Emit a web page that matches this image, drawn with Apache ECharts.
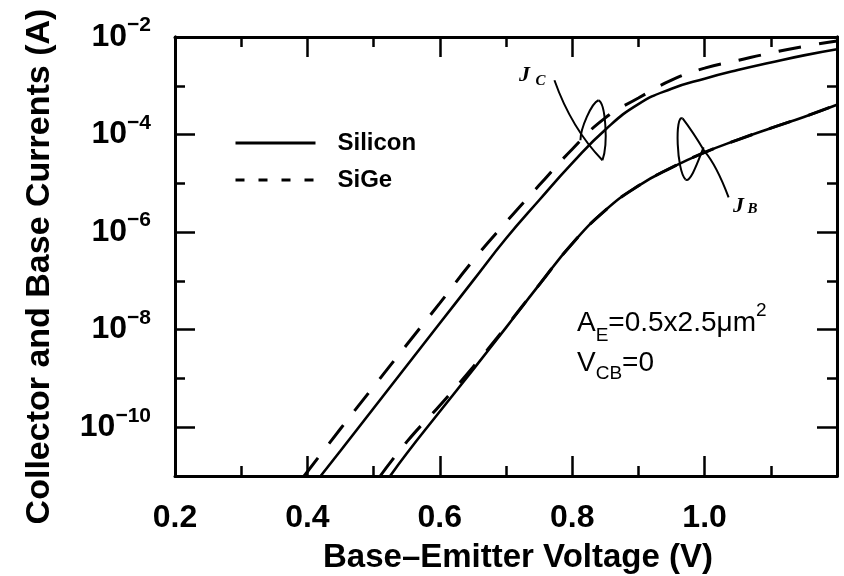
<!DOCTYPE html>
<html>
<head>
<meta charset="utf-8">
<script src="https://cdn.jsdelivr.net/npm/echarts@6/dist/echarts.min.js"></script>
<style>
  html, body { margin: 0; padding: 0; background: #fff; }
  #main { width: 844px; height: 576px; }
</style>
</head>
<body>
<div id="main"></div>
<script>
// 基极-发射极电压 (V) 与电流 (A)
const vbeJcSi = [0.42, 0.45, 0.50, 0.55, 0.60, 0.65, 0.70, 0.75, 0.80, 0.85, 0.90, 0.95, 1.00, 1.05, 1.10, 1.15, 1.20];
const jcSi = [1.0e-11, 3.3e-11, 2.45e-10, 1.82e-9, 1.35e-8, 1.0e-7, 7.4e-7, 4.5e-6, 2.6e-5, 1.26e-4, 4.2e-4, 8.7e-4, 1.4e-3, 2.1e-3, 3.0e-3, 4.2e-3, 5.6e-3];

const vbeJcSiGe = [0.395, 0.45, 0.50, 0.55, 0.60, 0.65, 0.70, 0.75, 0.80, 0.85, 0.90, 0.95, 1.00, 1.05, 1.10, 1.15, 1.20];
const jcSiGe = [1.0e-11, 9.3e-11, 6.8e-10, 4.9e-9, 3.5e-8, 2.6e-7, 1.6e-6, 9.1e-6, 5.0e-5, 2.2e-4, 5.6e-4, 1.3e-3, 2.3e-3, 3.3e-3, 4.7e-3, 6.4e-3, 8.3e-3];

const vbeJbSi = [0.525, 0.55, 0.60, 0.65, 0.70, 0.75, 0.80, 0.85, 0.90, 0.95, 1.00, 1.05, 1.10, 1.15, 1.20];
const jbSi = [1.0e-11, 2.9e-11, 2.1e-10, 1.5e-9, 1.1e-8, 8.3e-8, 5.8e-7, 2.8e-6, 8.9e-6, 2.1e-5, 4.3e-5, 7.8e-5, 1.35e-4, 2.3e-4, 4.1e-4];

const vbeJbSiGe = [0.51, 0.55, 0.60, 0.65, 0.70, 0.75, 0.80, 0.85, 0.90, 0.95, 1.00, 1.05, 1.10, 1.15, 1.20];
const jbSiGe = [1.0e-11, 5.0e-11, 2.8e-10, 1.7e-9, 1.15e-8, 8.3e-8, 5.8e-7, 2.8e-6, 8.9e-6, 2.1e-5, 4.3e-5, 7.8e-5, 1.35e-4, 2.3e-4, 4.1e-4];

// 刻度
const yMajorTicks = [1e-10, 1e-8, 1e-6, 1e-4, 1e-2];
const yMinorTicks = [1e-9, 1e-7, 1e-5, 1e-3];

const font = "'Liberation Sans', Arial, sans-serif";
const black = '#000';

function pairs(xs, ys) {
  return xs.map((x, i) => [x, ys[i]]);
}

function yAxisOf(position, ticks, len, withLabels) {
  return {
    type: 'log', logBase: 10, min: 1e-11, max: 1e-2,
    position: position, offset: 0,
    axisLine: { show: true, lineStyle: { color: black, width: 3 } },
    axisTick: { show: true, inside: true, length: len, customValues: ticks, lineStyle: { color: black, width: 2.5 } },
    minorTick: { show: false },
    splitLine: { show: false },
    axisLabel: withLabels ? {
      customValues: yMajorTicks,
      margin: 24,
      formatter: function (v) {
        const e = Math.round(Math.log10(v));
        return '{b|10}{s|\u2212' + (-e) + '}';
      },
      rich: {
        b: { fontSize: 32, fontWeight: 'bold', fontFamily: font, color: black },
        s: { fontSize: 21, fontWeight: 'bold', fontFamily: font, color: black, padding: [0, 0, 23, 0] }
      }
    } : { show: false },
    name: withLabels ? 'Collector and Base Currents (A)' : '',
    nameLocation: 'middle',
    nameRotate: 90,
    nameGap: 118,
    nameTextStyle: { fontSize: 34, fontWeight: 'bold', fontFamily: font, color: black, padding: [0, 20, 0, 0] }
  };
}

function xAxisOf(position, withLabels) {
  return {
    type: 'value', min: 0.2, max: 1.2, interval: 0.2, position: position,
    axisLine: { show: true, onZero: false, lineStyle: { color: black, width: 3 } },
    axisTick: { show: true, inside: true, length: 20, lineStyle: { color: black, width: 2.5 } },
    minorTick: { show: true, splitNumber: 2, length: 10, lineStyle: { color: black, width: 2.5 } },
    splitLine: { show: false },
    axisLabel: withLabels ? {
      margin: 26,
      fontSize: 32, fontWeight: 'bold', fontFamily: font, color: black,
      formatter: function (v) { return v > 1.15 ? '' : v.toFixed(1); }
    } : { show: false },
    name: withLabels ? 'Base\u2013Emitter Voltage (V)' : '',
    nameLocation: 'middle',
    nameGap: 65,
    nameTextStyle: { fontSize: 33, fontWeight: 'bold', fontFamily: font, color: black, padding: [0, 0, 0, 24] }
  };
}

const solid = { color: black, width: 2.6, type: 'solid' };
const dashed = { color: black, width: 3, type: [23, 18] };

function lineSeries(name, xs, ys, style) {
  return {
    name: name, type: 'line', xAxisIndex: 0, yAxisIndex: 0,
    data: pairs(xs, ys),
    symbol: 'none', showSymbol: false, smooth: 0.5,
    lineStyle: style, itemStyle: { color: black },
    clip: true, z: 3
  };
}

var myChart = echarts.init(document.getElementById('main'));

var option = {
  backgroundColor: '#fff',
  animation: false,
  grid: { left: 175, right: 7, top: 37, bottom: 100, outerBoundsMode: 'none', containLabel: false },
  legend: {
    orient: 'vertical', left: 229, top: 126,
    itemWidth: 80, itemHeight: 14, itemGap: 13,
    selectedMode: false,
    itemStyle: { color: 'rgba(0,0,0,0)', borderColor: 'rgba(0,0,0,0)', borderWidth: 0 },
    textStyle: { fontSize: 24, fontWeight: 'bold', fontFamily: font, color: black, padding: [0, 0, 0, 17] },
    data: [
      { name: 'Silicon', lineStyle: { color: black, width: 3, type: 'solid' } },
      { name: 'SiGe', lineStyle: { color: black, width: 3, type: [9, 14] } }
    ]
  },
  xAxis: [xAxisOf('bottom', true), xAxisOf('top', false)],
  yAxis: [
    yAxisOf('left', yMajorTicks, 20, true),
    yAxisOf('left', yMinorTicks, 10, false),
    yAxisOf('right', yMajorTicks, 20, false),
    yAxisOf('right', yMinorTicks, 10, false)
  ],
  series: [
    lineSeries('Silicon', vbeJcSi, jcSi, solid),
    lineSeries('SiGe', vbeJcSiGe, jcSiGe, dashed),
    lineSeries('Silicon', vbeJbSi, jbSi, solid),
    lineSeries('SiGe', vbeJbSiGe, jbSiGe, dashed)
  ]
};

myChart.setOption(option);

// 注释：J_C / J_B 的套索标记，位置相对曲线上的点
const jcAnchor = myChart.convertToPixel({ xAxisIndex: 0, yAxisIndex: 0 }, [0.82, 5.0e-5]);
const jbAnchor = myChart.convertToPixel({ xAxisIndex: 0, yAxisIndex: 0 }, [1.0, 4.5e-5]);
jcAnchor[1] -= 6;
const serif = "'Liberation Serif', 'Times New Roman', serif";

function curve(x1, y1, cx1, cy1, cx2, cy2, x2, y2) {
  const shape = { x1: x1, y1: y1, x2: x2, y2: y2, cpx1: cx1, cpy1: cy1 };
  if (cx2 !== null) { shape.cpx2 = cx2; shape.cpy2 = cy2; }
  return { type: 'bezierCurve', shape: shape, style: { fill: null, stroke: black, lineWidth: 2 } };
}

function label(x, y, text, size) {
  return {
    type: 'text', x: x, y: y, z: 10,
    style: { text: text, font: 'italic bold ' + size + 'px ' + serif, fill: black, align: 'center', verticalAlign: 'middle' }
  };
}

myChart.setOption({
  graphic: [
    {
      type: 'group', x: jcAnchor[0], y: jcAnchor[1], z: 10,
      children: [
        curve(-31, -63, -14, -15, null, null, 17, 17),
        curve(17, 17, 23, 0, 20, -40, 13, -43),
        curve(13, -43, 6, -40, -5, -15, -5, -3)
      ]
    },
    label(jcAnchor[0] - 61, jcAnchor[1] - 68, 'J', 22),
    label(jcAnchor[0] - 45, jcAnchor[1] - 62, 'C', 15),
    {
      type: 'group', x: jbAnchor[0], y: jbAnchor[1], z: 10,
      children: [
        curve(24, 46, 12, 14, null, null, 0, 0),
        curve(0, 0, -12, -20, null, null, -22, -33),
        curve(-22, -33, -30, -38, -28, 20, -19, 28),
        curve(-19, 28, -14, 32, -6, 8, -1, -4)
      ]
    },
    label(jbAnchor[0] + 34, jbAnchor[1] + 55, 'J', 22),
    label(jbAnchor[0] + 48, jbAnchor[1] + 58, 'B', 15),
    {
      type: 'text', x: 577, y: 323, z: 10,
      style: {
        text: '{n|A}{sub|E}{n|=0.5x2.5\u03bcm}{sup|2}',
        verticalAlign: 'middle', align: 'left',
        rich: {
          n: { fontSize: 28, fontFamily: font, fill: black },
          sub: { fontSize: 19, fontFamily: font, fill: black, padding: [25, 0, 0, 0] },
          sup: { fontSize: 19, fontFamily: font, fill: black, padding: [0, 0, 25, 0] }
        }
      }
    },
    {
      type: 'text', x: 577, y: 363, z: 10,
      style: {
        text: '{n|V}{sub|CB}{n|=0}',
        verticalAlign: 'middle', align: 'left',
        rich: {
          n: { fontSize: 28, fontFamily: font, fill: black },
          sub: { fontSize: 19, fontFamily: font, fill: black, padding: [22, 0, 0, 0] }
        }
      }
    }
  ]
});
</script>
</body>
</html>
